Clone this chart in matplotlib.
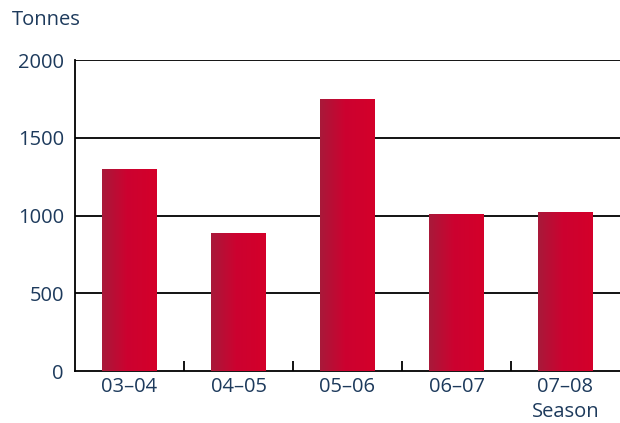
import matplotlib
matplotlib.use("Agg")
import matplotlib.pyplot as plt
import numpy as np
from matplotlib.colors import LinearSegmentedColormap

seasons = ["03–04", "04–05", "05–06", "06–07", "07–08"]
tonnes = [1300, 890, 1750, 1010, 1025]
yticks = [0, 500, 1000, 1500, 2000]

text_color = "#1d3a5c"
plt.rcParams['font.family'] = ['Open Sans', 'DejaVu Sans']

fig = plt.figure(figsize=(6.2, 4.23), dpi=100)
W, H = 620, 423
ax = fig.add_axes([75 / W, 1 - 371 / H, (620 - 75) / W, (371 - 60) / H])
ax.set_xlim(-0.5, len(seasons) - 0.5)
ax.set_ylim(0, 2000)

x = np.arange(len(seasons))
bars = ax.bar(x, tonnes, width=0.5, color="#d0002a", zorder=2)

cmap = LinearSegmentedColormap.from_list(
    "g", [(0.0, "#a81a3a"), (0.45, "#cc0230"), (1.0, "#d4002a")])
grad = np.linspace(0, 1, 256).reshape(1, -1)
for b in bars:
    x0, y0 = b.get_x(), b.get_y()
    w, h = b.get_width(), b.get_height()
    im = ax.imshow(grad, cmap=cmap, extent=(x0, x0 + w, y0, y0 + h),
                   aspect="auto", zorder=3, interpolation="bilinear")
    im.set_clip_path(b)
ax.set_xlim(-0.5, len(seasons) - 0.5)
ax.set_ylim(0, 2000)

for yv in yticks[1:]:
    ax.axhline(yv, color="black", lw=1.3, zorder=1)

for s in ["top", "right"]:
    ax.spines[s].set_visible(False)
ax.spines["left"].set_linewidth(1.3)
ax.spines["bottom"].set_linewidth(1.3)

fs = 14.5
ax.set_yticks(yticks)
ax.set_yticklabels([str(v) for v in yticks])
ax.tick_params(axis="y", length=0, pad=8, labelsize=fs, labelcolor=text_color)
ax.set_xticks(x)
ax.set_xticklabels(seasons)
ax.tick_params(axis="x", length=0, pad=4, labelsize=fs, labelcolor=text_color)
ax.set_xticks(x[:-1] + 0.5, minor=True)
ax.tick_params(axis="x", which="minor", direction="in", length=7, width=1.3, color="black")

fig.text(12 / W, 1 - 20 / H, "Tonnes", fontsize=fs, color=text_color,
         ha="left", va="center")
fig.text(566 / W, 1 - 412 / H, "Season", fontsize=fs, color=text_color,
         ha="center", va="center")

fig.savefig("out.png", dpi=100)
